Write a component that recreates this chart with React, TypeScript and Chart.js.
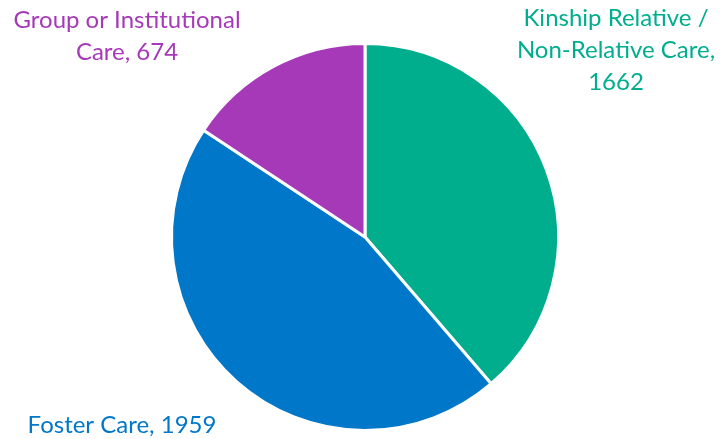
import React, { useEffect, useRef } from "react";
import { Chart, registerables } from "chart.js";

Chart.register(...registerables);

const categories = ["Kinship Relative / Non-Relative Care", "Foster Care", "Group or Institutional Care"];
const values = [1662, 1959, 674];
const colors = ["#00AE8D", "#0077C8", "#A639B8"];
const labelLines = [
  ["Kinship Relative /", "Non-Relative Care,", "1662"],
  ["Foster Care, 1959"],
  ["Group or Institutional", "Care, 674"],
];
// label anchor: center x, first baseline y
const labelAnchors = [
  { x: 616, y: 26 },
  { x: 122, y: 433 },
  { x: 127, y: 28 },
];

const labelPlugin = {
  id: "sliceLabels",
  afterDraw(chart: any) {
    const ctx = chart.ctx;
    ctx.save();
    ctx.font = "24px Lato";
    ctx.textAlign = "center";
    ctx.textBaseline = "alphabetic";
    labelLines.forEach((lines, i) => {
      ctx.fillStyle = colors[i];
      lines.forEach((line, j) => {
        ctx.fillText(line, labelAnchors[i].x, labelAnchors[i].y + j * 32);
      });
    });
    ctx.restore();
  },
};

export default function App() {
  const ref = useRef<HTMLCanvasElement>(null);
  useEffect(() => {
    const chart = new Chart(ref.current!, {
      type: "pie",
      data: {
        labels: categories,
        datasets: [
          {
            data: values,
            backgroundColor: colors,
            borderColor: "#ffffff",
            borderWidth: 3,
          },
        ],
      },
      options: {
        responsive: false,
        animation: false,
        layout: { padding: { top: 42, bottom: 7, left: 170, right: 161 } },
        plugins: { legend: { display: false }, tooltip: { enabled: false } },
      },
      plugins: [labelPlugin],
    });
    return () => chart.destroy();
  }, []);
  return (
    <div style={{ position: "fixed", left: 0, top: 0, width: 721, height: 439, background: "#fff" }}>
      <canvas ref={ref} width={721} height={439} style={{ display: "block" }} />
    </div>
  );
}
